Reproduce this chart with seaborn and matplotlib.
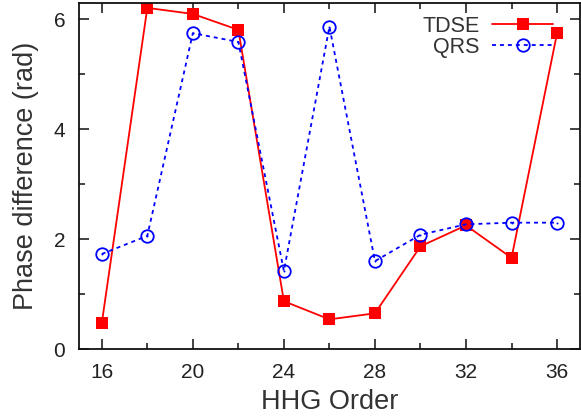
import matplotlib
matplotlib.use("Agg")
import matplotlib.pyplot as plt
import seaborn as sns
import pandas as pd
from matplotlib.ticker import MultipleLocator

orders = [16, 18, 20, 22, 24, 26, 28, 30, 32, 34, 36]
tdse = [0.47, 6.21, 6.10, 5.81, 0.87, 0.54, 0.65, 1.87, 2.25, 1.66, 5.75]
qrs = [1.73, 2.06, 5.75, 5.59, 1.42, 5.87, 1.60, 2.08, 2.27, 2.30, 2.30]
x_ticks = [16, 20, 24, 28, 32, 36]
y_ticks = [0, 2, 4, 6]

sns.set_style("ticks")
plt.rcParams['font.family'] = ['Liberation Sans', 'DejaVu Sans']

df = pd.DataFrame({"order": orders, "TDSE": tdse, "QRS": qrs})

fig = plt.figure(figsize=(5.81, 4.20), dpi=100)
ax = fig.add_axes([0.136, 0.169, 0.862, 0.824])

sns.lineplot(data=df, x="order", y="TDSE", ax=ax, color="#ff0000", linewidth=1.3,
             marker="s", markersize=9, markeredgewidth=0, label="TDSE")
sns.lineplot(data=df, x="order", y="QRS", ax=ax, color="#0000ff", linewidth=1.3,
             linestyle=(0, (2.2, 2.2)), marker="o", markersize=9,
             markerfacecolor="none", markeredgecolor="#0000ff", markeredgewidth=1.3,
             label="QRS")
sns.scatterplot(data=df, x="order", y="QRS", ax=ax, color="#0000ff", s=2,
                linewidth=0, legend=False)

ax.set_xlim(15, 37)
ax.set_ylim(0, 6.3)
ax.set_xticks(x_ticks)
ax.set_yticks(y_ticks)
ax.xaxis.set_minor_locator(MultipleLocator(2))
ax.yaxis.set_minor_locator(MultipleLocator(1))
ax.tick_params(which="both", direction="in", top=True, right=True,
               labelsize=15, colors="#222222", width=1.2)
ax.tick_params(which="major", length=7)
ax.tick_params(axis="x", which="major", pad=10)
ax.tick_params(axis="y", which="major", pad=10)
ax.tick_params(which="minor", length=4)
for s in ax.spines.values():
    s.set_linewidth(1.3)
    s.set_color("#111111")

ax.set_xlabel("HHG Order", fontsize=19.5, color="#333333", labelpad=5)
ax.set_ylabel("Phase difference (rad)", fontsize=19.5, color="#333333", labelpad=10)

leg = ax.legend(loc="upper right", markerfirst=False, frameon=False,
                fontsize=15.5, handlelength=2.8, handletextpad=0.6,
                labelspacing=0.0, borderaxespad=0.0,
                bbox_to_anchor=(0.963, 0.988))
for t in leg.get_texts():
    t.set_color("#333333")

fig.savefig("out.png", dpi=100)
